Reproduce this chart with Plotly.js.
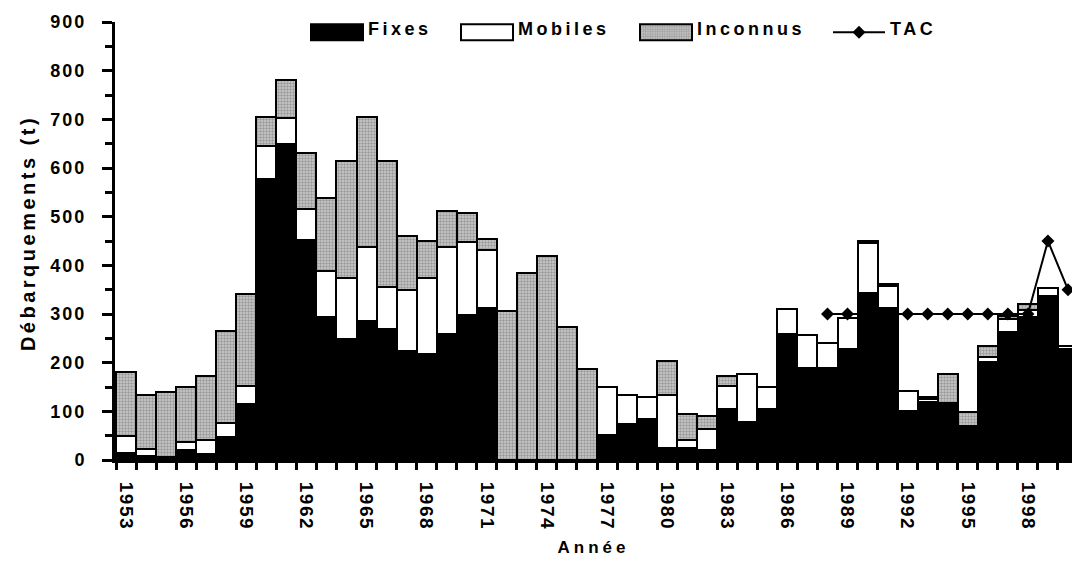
<!DOCTYPE html>
<html>
<head>
<meta charset="utf-8">
<script src="https://cdn.plot.ly/plotly-3.0.1.min.js"></script>
<style>
  html, body { margin: 0; padding: 0; background: #fff; }
  #chart { width: 1072px; height: 561px; }
  .js-plotly-plot .ytitle { letter-spacing: 3.5px; }
  .js-plotly-plot .xtitle { letter-spacing: 4px; }
  .js-plotly-plot .xtick text { letter-spacing: 1.5px; }
  .js-plotly-plot .ytick text { letter-spacing: 2px; }
</style>
</head>
<body>
<div id="chart"></div>
<script>
const years = [1953,1954,1955,1956,1957,1958,1959,1960,1961,1962,1963,1964,1965,1966,1967,1968,1969,1970,1971,1972,1973,1974,1975,1976,1977,1978,1979,1980,1981,1982,1983,1984,1985,1986,1987,1988,1989,1990,1991,1992,1993,1994,1995,1996,1997,1998,1999,2000];
const fixes    = [15,8,3,20,13,48,116,578,650,452,294,248,285,270,224,217,259,297,313,0,0,0,0,0,51,74,85,24,24,20,105,78,105,258,189,189,228,344,313,101,120,112,70,201,262,294,336,228];
const mobiles  = [35,15,3,16,28,29,36,68,53,63,94,125,153,86,125,156,179,151,118,0,0,0,0,0,98,59,45,109,18,44,48,99,44,53,68,51,64,101,45,41,6,6,0,11,28,14,18,7];
const inconnus = [130,110,134,113,131,188,190,58,77,115,150,242,266,259,112,77,74,59,23,307,385,419,273,187,0,0,0,70,52,26,20,0,0,0,0,0,0,4,3,0,3,58,29,23,5,12,0,0];
const tacYears = [1988,1989,1990,1991,1992,1993,1994,1995,1996,1997,1998,1999,2000];
const tac      = [300,300,300,300,300,300,300,300,300,300,300,450,350];
const tickYears = [1953,1956,1959,1962,1965,1968,1971,1974,1977,1980,1983,1986,1989,1992,1995,1998];

const FONT = 'Arial, "Liberation Sans", Helvetica, sans-serif';
const outline = { color: '#000', width: 2 };

const traces = [
  { type: 'bar', name: 'Fixes', x: years, y: fixes, legend: 'legend',
    marker: { color: '#000', line: outline } },
  { type: 'bar', name: 'Mobiles', x: years, y: mobiles, legend: 'legend2',
    marker: { color: '#fff', line: outline } },
  { type: 'bar', name: 'Inconnus', x: years, y: inconnus, legend: 'legend3',
    marker: { color: '#bcbcbc', line: outline,
      pattern: { shape: '.', fgcolor: '#999999', bgcolor: '#cecece', size: 3, solidity: 0.5 } } },
  { type: 'scatter', mode: 'lines+markers', name: 'TAC', x: tacYears, y: tac, legend: 'legend4',
    line: { color: '#000', width: 2 },
    marker: { symbol: 'diamond', size: 10, color: '#000' }, cliponaxis: false }
];

function legendAt(px) {
  return {
    orientation: 'h', x: (px - 115) / 957, y: 1.026, xanchor: 'left', yanchor: 'top',
    font: { family: FONT, size: 17, weight: 'bold', color: '#000' },
    itemwidth: 52, bgcolor: 'rgba(0,0,0,0)', borderwidth: 0
  };
}

const layout = {
  width: 1072, height: 561,
  margin: { l: 115, r: 0, t: 22, b: 101, pad: 0 },
  paper_bgcolor: '#fff', plot_bgcolor: '#fff',
  barmode: 'stack', bargap: 0,
  font: { family: FONT, color: '#000', size: 16, weight: 'bold' },
  showlegend: true,
  legend: legendAt(306),
  legend2: legendAt(456),
  legend3: legendAt(635),
  legend4: legendAt(828),
  xaxis: {
    range: [1952.45, 2000.2], showgrid: false, zeroline: false,
    showline: true, linecolor: '#000', linewidth: 3,
    tickmode: 'array', tickvals: tickYears, ticktext: tickYears.map(String),
    ticks: '', tickangle: 90, ticklabelstandoff: 15,
    tickfont: { family: FONT, size: 19, weight: 'bold', color: '#000' },
    minor: { tickmode: 'linear', tick0: 1952.5, dtick: 1, ticks: 'outside', ticklen: 7, tickwidth: 3, tickcolor: '#000', showgrid: false },
    title: { text: 'Année', font: { family: FONT, size: 17, weight: 'bold', color: '#000' }, standoff: 18 }
  },
  yaxis: {
    range: [0, 900], showgrid: false, zeroline: false,
    showline: true, linecolor: '#000', linewidth: 3,
    tickmode: 'linear', tick0: 0, dtick: 100,
    ticks: 'outside', ticklen: 10, tickwidth: 3, tickcolor: '#000',
    ticklabelstandoff: 12,
    tickfont: { family: FONT, size: 18, weight: 'bold', color: '#000' },
    minor: { tickmode: 'linear', tick0: 0, dtick: 50, ticks: 'outside', ticklen: 7, tickwidth: 3, tickcolor: '#000', showgrid: false },
    title: { text: 'Débarquements (t)', font: { family: FONT, size: 20, weight: 'bold', color: '#000' }, standoff: 16 }
  }
};

function styleLegends(gd) {
  const info = gd.querySelector('.infolayer');
  if (!info) return;
  info.querySelectorAll('g.traces').forEach(function (item) {
    // spaced lettering as in the reference
    item.querySelectorAll('text').forEach(function (t) {
      t.style.letterSpacing = '3.5px';
      t.style.fontSize = '18px';
      t.style.fontWeight = 'bold';
    });
    // wide rectangular swatches, slightly below the text centre
    item.querySelectorAll('.legendpoints path').forEach(function (p) {
      if (p.getAttribute('d') === 'M6,6H-6V-6H6Z') {
        p.setAttribute('d', 'M26,12H-26V-4H26Z');
      }
    });
    const line = item.querySelector('.legendlines path');
    if (line && !line.dataset.shifted) {
      line.dataset.shifted = '1';
      line.setAttribute('transform', 'translate(0,4)');
      item.querySelectorAll('.legendpoints path').forEach(function (m) {
        const t = m.getAttribute('transform') || '';
        m.setAttribute('transform', t + ' translate(0,4)');
      });
    }
  });
  // the legend text is wider than Plotly measured: do not clip it
  info.querySelectorAll('g.scrollbox, g.traces, g.traces *').forEach(function (el) {
    if (el.hasAttribute('clip-path')) el.removeAttribute('clip-path');
  });
}

Plotly.newPlot('chart', traces, layout, { displayModeBar: false, staticPlot: true }).then(function (gd) {
  styleLegends(gd);
  // nudge the y title slightly upward, as in the reference
  const yt = gd.querySelector('.ytitle');
  if (yt) {
    const t = yt.getAttribute('transform') || '';
    yt.setAttribute('transform', t + ' translate(8,0)');
  }
});
</script>
</body>
</html>
